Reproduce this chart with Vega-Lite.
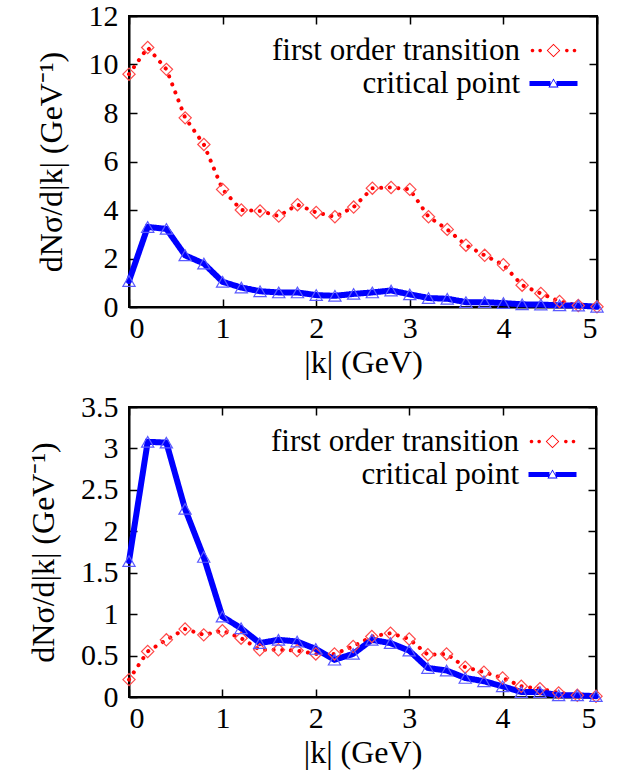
{
  "$schema": "https://vega.github.io/schema/vega-lite/v6.json",
  "padding": {"left": 26, "top": 0, "right": 5, "bottom": 2},
  "background": "white",
  "datasets": {
    "top": [
      {"k": 0.0, "s": "first order transition", "v": 9.6},
      {"k": 0.2, "s": "first order transition", "v": 10.7},
      {"k": 0.4, "s": "first order transition", "v": 9.8},
      {"k": 0.6, "s": "first order transition", "v": 7.8},
      {"k": 0.8, "s": "first order transition", "v": 6.7},
      {"k": 1.0, "s": "first order transition", "v": 4.85},
      {"k": 1.2, "s": "first order transition", "v": 4.0},
      {"k": 1.4, "s": "first order transition", "v": 3.96},
      {"k": 1.6, "s": "first order transition", "v": 3.75},
      {"k": 1.8, "s": "first order transition", "v": 4.22},
      {"k": 2.0, "s": "first order transition", "v": 3.9},
      {"k": 2.2, "s": "first order transition", "v": 3.72},
      {"k": 2.4, "s": "first order transition", "v": 4.12},
      {"k": 2.6, "s": "first order transition", "v": 4.9},
      {"k": 2.8, "s": "first order transition", "v": 4.93},
      {"k": 3.0, "s": "first order transition", "v": 4.85},
      {"k": 3.2, "s": "first order transition", "v": 3.72},
      {"k": 3.4, "s": "first order transition", "v": 3.2},
      {"k": 3.6, "s": "first order transition", "v": 2.55},
      {"k": 3.8, "s": "first order transition", "v": 2.13},
      {"k": 4.0, "s": "first order transition", "v": 1.74},
      {"k": 4.2, "s": "first order transition", "v": 0.9},
      {"k": 4.4, "s": "first order transition", "v": 0.56},
      {"k": 4.6, "s": "first order transition", "v": 0.23},
      {"k": 4.8, "s": "first order transition", "v": 0.06},
      {"k": 5.0, "s": "first order transition", "v": 0.01},
      {"k": 0.0, "s": "critical point", "v": 1.07},
      {"k": 0.2, "s": "critical point", "v": 3.3},
      {"k": 0.4, "s": "critical point", "v": 3.22},
      {"k": 0.6, "s": "critical point", "v": 2.13},
      {"k": 0.8, "s": "critical point", "v": 1.79},
      {"k": 1.0, "s": "critical point", "v": 1.04},
      {"k": 1.2, "s": "critical point", "v": 0.8},
      {"k": 1.4, "s": "critical point", "v": 0.65},
      {"k": 1.6, "s": "critical point", "v": 0.6},
      {"k": 1.8, "s": "critical point", "v": 0.6},
      {"k": 2.0, "s": "critical point", "v": 0.49},
      {"k": 2.2, "s": "critical point", "v": 0.46},
      {"k": 2.4, "s": "critical point", "v": 0.54},
      {"k": 2.6, "s": "critical point", "v": 0.6},
      {"k": 2.8, "s": "critical point", "v": 0.68},
      {"k": 3.0, "s": "critical point", "v": 0.52},
      {"k": 3.2, "s": "critical point", "v": 0.37},
      {"k": 3.4, "s": "critical point", "v": 0.34},
      {"k": 3.6, "s": "critical point", "v": 0.2},
      {"k": 3.8, "s": "critical point", "v": 0.2},
      {"k": 4.0, "s": "critical point", "v": 0.16},
      {"k": 4.2, "s": "critical point", "v": 0.11},
      {"k": 4.4, "s": "critical point", "v": 0.1},
      {"k": 4.6, "s": "critical point", "v": 0.07},
      {"k": 4.8, "s": "critical point", "v": 0.06},
      {"k": 5.0, "s": "critical point", "v": 0.01}
    ],
    "bottom": [
      {"k": 0.0, "s": "first order transition", "v": 0.21},
      {"k": 0.2, "s": "first order transition", "v": 0.55},
      {"k": 0.4, "s": "first order transition", "v": 0.69},
      {"k": 0.6, "s": "first order transition", "v": 0.82},
      {"k": 0.8, "s": "first order transition", "v": 0.75},
      {"k": 1.0, "s": "first order transition", "v": 0.8},
      {"k": 1.2, "s": "first order transition", "v": 0.71},
      {"k": 1.4, "s": "first order transition", "v": 0.57},
      {"k": 1.6, "s": "first order transition", "v": 0.57},
      {"k": 1.8, "s": "first order transition", "v": 0.56},
      {"k": 2.0, "s": "first order transition", "v": 0.52},
      {"k": 2.2, "s": "first order transition", "v": 0.52},
      {"k": 2.4, "s": "first order transition", "v": 0.61},
      {"k": 2.6, "s": "first order transition", "v": 0.73},
      {"k": 2.8, "s": "first order transition", "v": 0.77},
      {"k": 3.0, "s": "first order transition", "v": 0.7},
      {"k": 3.2, "s": "first order transition", "v": 0.51},
      {"k": 3.4, "s": "first order transition", "v": 0.52},
      {"k": 3.6, "s": "first order transition", "v": 0.36},
      {"k": 3.8, "s": "first order transition", "v": 0.3},
      {"k": 4.0, "s": "first order transition", "v": 0.23},
      {"k": 4.2, "s": "first order transition", "v": 0.13},
      {"k": 4.4, "s": "first order transition", "v": 0.1},
      {"k": 4.6, "s": "first order transition", "v": 0.05},
      {"k": 4.8, "s": "first order transition", "v": 0.02},
      {"k": 5.0, "s": "first order transition", "v": 0.01},
      {"k": 0.0, "s": "critical point", "v": 1.64},
      {"k": 0.2, "s": "critical point", "v": 3.08},
      {"k": 0.4, "s": "critical point", "v": 3.07},
      {"k": 0.6, "s": "critical point", "v": 2.27},
      {"k": 0.8, "s": "critical point", "v": 1.69},
      {"k": 1.0, "s": "critical point", "v": 0.97},
      {"k": 1.2, "s": "critical point", "v": 0.83},
      {"k": 1.4, "s": "critical point", "v": 0.65},
      {"k": 1.6, "s": "critical point", "v": 0.69},
      {"k": 1.8, "s": "critical point", "v": 0.67},
      {"k": 2.0, "s": "critical point", "v": 0.58},
      {"k": 2.2, "s": "critical point", "v": 0.45},
      {"k": 2.4, "s": "critical point", "v": 0.52},
      {"k": 2.6, "s": "critical point", "v": 0.69},
      {"k": 2.8, "s": "critical point", "v": 0.65},
      {"k": 3.0, "s": "critical point", "v": 0.56},
      {"k": 3.2, "s": "critical point", "v": 0.35},
      {"k": 3.4, "s": "critical point", "v": 0.32},
      {"k": 3.6, "s": "critical point", "v": 0.23},
      {"k": 3.8, "s": "critical point", "v": 0.19},
      {"k": 4.0, "s": "critical point", "v": 0.13},
      {"k": 4.2, "s": "critical point", "v": 0.06},
      {"k": 4.4, "s": "critical point", "v": 0.06},
      {"k": 4.6, "s": "critical point", "v": 0.02},
      {"k": 4.8, "s": "critical point", "v": 0.02},
      {"k": 5.0, "s": "critical point", "v": 0.01}
    ]
  },
  "columns": 1,
  "spacing": 12,
  "resolve": {
    "scale": {"x": "independent", "y": "independent", "color": "independent"},
    "legend": {"color": "independent"}
  },
  "concat": [
    {
      "width": 468,
      "height": 291,
      "data": {"name": "top"},
      "resolve": {"axis": {"x": "independent", "y": "independent"}},
      "layer": [
        {
          "mark": {"type": "line", "strokeCap": "round", "clip": false},
          "encoding": {
            "x": {"field": "k", "type": "quantitative", "scale": {"domain": [0, 5], "nice": false},
                  "axis": {"orient": "bottom", "values": [0, 1, 2, 3, 4, 5], "title": "|k| (GeV)", "labelPadding": 14, "titlePadding": 4}},
            "y": {"field": "v", "type": "quantitative", "scale": {"domain": [0, 12], "nice": false},
                  "axis": {"orient": "left", "values": [0, 2, 4, 6, 8, 10, 12], "title": "dNσ/d|k| (GeV⁻¹)", "labelPadding": 19, "titlePadding": 20}},
            "color": {"field": "s", "type": "nominal",
                      "scale": {"domain": ["first order transition", "critical point"], "range": ["#ff0000", "#0000ff"]},
                      "legend": {"title": null, "orient": "top-right", "offset": 19, "labelAlign": "right", "labelOffset": -49, "symbolSize": 900, "rowPadding": 1,
                                 "encode": {"symbols": {"update": {
                                   "shape": {"signal": "datum.value === 'first order transition' ? 'M-1.52,0a0.12,0.12 0 1,0 0.24,0a0.12,0.12 0 1,0 -0.24,0ZM-1.01,0a0.12,0.12 0 1,0 0.24,0a0.12,0.12 0 1,0 -0.24,0ZM0.77,0a0.12,0.12 0 1,0 0.24,0a0.12,0.12 0 1,0 -0.24,0ZM1.28,0a0.12,0.12 0 1,0 0.24,0a0.12,0.12 0 1,0 -0.24,0ZM0,-0.45L0.45,0L0,0.45L-0.45,0ZM0,-0.37L-0.37,0L0,0.37L0.37,0Z' : 'M-1.6,-0.16H-0.2V0.16H-1.6ZM0.2,-0.16H1.6V0.16H0.2ZM0,-0.34L0.34,0.26L-0.34,0.26ZM0,-0.24L-0.25,0.2L0.25,0.2Z'"},
                                   "fill": {"signal": "datum.value === 'first order transition' ? '#ff0000' : '#0000ff'"},
                                   "fillOpacity": {"value": 1},
                                   "strokeWidth": {"value": 0},
                                   "opacity": {"value": 1}
                                 }}}}},
            "strokeDash": {"condition": {"test": "datum.s === 'first order transition'", "value": [0.1, 8.5]}, "value": [1, 0]},
            "strokeWidth": {"condition": {"test": "datum.s === 'first order transition'", "value": 4}, "value": 6}
          }
        },
        {
          "mark": {"type": "point", "filled": false, "strokeWidth": 1.2, "size": 150, "clip": false, "opacity": 1},
          "encoding": {
            "x": {"field": "k", "type": "quantitative", "scale": {"domain": [0, 5], "nice": false},
                  "axis": {"orient": "top", "values": [0, 1, 2, 3, 4, 5], "labels": false, "title": null}},
            "y": {"field": "v", "type": "quantitative", "scale": {"domain": [0, 12], "nice": false},
                  "axis": {"orient": "right", "values": [0, 2, 4, 6, 8, 10, 12], "labels": false, "title": null}},
            "shape": {"condition": {"test": "datum.s === 'first order transition'", "value": "diamond"}, "value": "triangle-up"},
            "stroke": {"condition": {"test": "datum.s === 'first order transition'", "value": "#ff4a4a"}, "value": "#5a5aff"}
          }
        }
      ]
    },
    {
      "width": 467,
      "height": 290,
      "data": {"name": "bottom"},
      "resolve": {"axis": {"x": "independent", "y": "independent"}},
      "layer": [
        {
          "mark": {"type": "line", "strokeCap": "round", "clip": false},
          "encoding": {
            "x": {"field": "k", "type": "quantitative", "scale": {"domain": [0, 5], "nice": false},
                  "axis": {"orient": "bottom", "values": [0, 1, 2, 3, 4, 5], "title": "|k| (GeV)", "labelPadding": 14, "titlePadding": 4}},
            "y": {"field": "v", "type": "quantitative", "scale": {"domain": [0, 3.5], "nice": false},
                  "axis": {"orient": "left", "values": [0, 0.5, 1, 1.5, 2, 2.5, 3, 3.5], "format": "~g", "title": "dNσ/d|k| (GeV⁻¹)", "labelPadding": 19, "titlePadding": 20}},
            "color": {"field": "s", "type": "nominal",
                      "scale": {"domain": ["first order transition", "critical point"], "range": ["#ff0000", "#0000ff"]},
                      "legend": {"title": null, "orient": "top-right", "offset": 19, "labelAlign": "right", "labelOffset": -49, "symbolSize": 900, "rowPadding": 1,
                                 "encode": {"symbols": {"update": {
                                   "shape": {"signal": "datum.value === 'first order transition' ? 'M-1.52,0a0.12,0.12 0 1,0 0.24,0a0.12,0.12 0 1,0 -0.24,0ZM-1.01,0a0.12,0.12 0 1,0 0.24,0a0.12,0.12 0 1,0 -0.24,0ZM0.77,0a0.12,0.12 0 1,0 0.24,0a0.12,0.12 0 1,0 -0.24,0ZM1.28,0a0.12,0.12 0 1,0 0.24,0a0.12,0.12 0 1,0 -0.24,0ZM0,-0.45L0.45,0L0,0.45L-0.45,0ZM0,-0.37L-0.37,0L0,0.37L0.37,0Z' : 'M-1.6,-0.16H-0.2V0.16H-1.6ZM0.2,-0.16H1.6V0.16H0.2ZM0,-0.34L0.34,0.26L-0.34,0.26ZM0,-0.24L-0.25,0.2L0.25,0.2Z'"},
                                   "fill": {"signal": "datum.value === 'first order transition' ? '#ff0000' : '#0000ff'"},
                                   "fillOpacity": {"value": 1},
                                   "strokeWidth": {"value": 0},
                                   "opacity": {"value": 1}
                                 }}}}},
            "strokeDash": {"condition": {"test": "datum.s === 'first order transition'", "value": [0.1, 8.5]}, "value": [1, 0]},
            "strokeWidth": {"condition": {"test": "datum.s === 'first order transition'", "value": 4}, "value": 6}
          }
        },
        {
          "mark": {"type": "point", "filled": false, "strokeWidth": 1.2, "size": 150, "clip": false, "opacity": 1},
          "encoding": {
            "x": {"field": "k", "type": "quantitative", "scale": {"domain": [0, 5], "nice": false},
                  "axis": {"orient": "top", "values": [0, 1, 2, 3, 4, 5], "labels": false, "title": null}},
            "y": {"field": "v", "type": "quantitative", "scale": {"domain": [0, 3.5], "nice": false},
                  "axis": {"orient": "right", "values": [0, 0.5, 1, 1.5, 2, 2.5, 3, 3.5], "labels": false, "title": null}},
            "shape": {"condition": {"test": "datum.s === 'first order transition'", "value": "diamond"}, "value": "triangle-up"},
            "stroke": {"condition": {"test": "datum.s === 'first order transition'", "value": "#ff4a4a"}, "value": "#5a5aff"}
          }
        }
      ]
    }
  ],
  "config": {
    "view": {"stroke": "black", "strokeWidth": 2},
    "font": "Liberation Serif",
    "axis": {
      "grid": false,
      "labelFont": "Liberation Serif", "labelFontSize": 30, "labelColor": "black",
      "titleFont": "Liberation Serif", "titleFontSize": 32, "titleFontWeight": "normal", "titleColor": "black",
      "tickColor": "black", "tickWidth": 1.5, "tickSize": -8,
      "domainColor": "black", "domainWidth": 2
    },
    "legend": {
      "labelFont": "Liberation Serif", "labelFontSize": 31, "labelColor": "black", "labelLimit": 0
    }
  }
}
